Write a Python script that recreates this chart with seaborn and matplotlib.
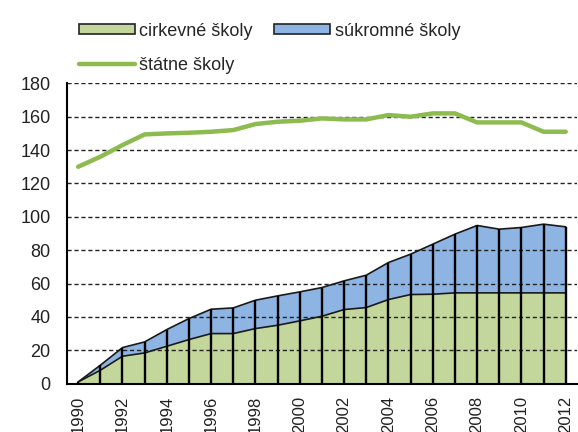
import numpy as np
import pandas as pd
import matplotlib
matplotlib.use("Agg")
import matplotlib.pyplot as plt
import seaborn as sns
from matplotlib.patches import Patch
from matplotlib.lines import Line2D

years = list(range(1990, 2013))
cirkevne = [1, 8, 16.4, 18.4, 22.4, 26.4, 30, 30, 33, 35, 37.6, 40.4, 44.4, 45.6,
            50.4, 53.4, 53.6, 54.4, 54.4, 54.4, 54.4, 54.4, 54.4]
celkom = [1, 11, 21.6, 25, 32.4, 39, 44.6, 45.4, 50, 52.6, 55, 57.6, 61.6, 65,
          72.6, 77.6, 83.6, 89.6, 94.8, 92.6, 93.6, 95.6, 94]
statne = [130, 136, 143, 149.4, 150, 150.4, 151, 152, 155.6, 157, 157.6, 159, 158.4,
          158.4, 161, 160, 162, 162, 156.6, 156.6, 156.6, 151, 151]
sukromne = [t - c for t, c in zip(celkom, cirkevne)]

labels = ["cirkevné školy", "súkromné školy", "štátne školy"]
c_green_fill = "#C3D69B"
c_blue_fill = "#8EB4E3"
c_line = "#8DBB4F"

sns.set_style("white")
plt.rcParams['font.family'] = ['Liberation Sans', 'DejaVu Sans']

df = pd.DataFrame({"rok": years, "cirk": cirkevne, "sukr": sukromne, "stat": statne})

fig = plt.figure(figsize=(5.78, 4.32), dpi=100)
ax = fig.add_axes([0.116, 0.112, 0.882, 0.695])

ax.stackplot(df["rok"], df["cirk"], df["sukr"], colors=[c_green_fill, c_blue_fill],
             edgecolor="none")
ax.plot(df["rok"], df["cirk"], color="#1a1a1a", lw=1.2)
ax.plot(df["rok"], df["cirk"] + df["sukr"], color="#1a1a1a", lw=1.2)
ax.vlines(df["rok"], 0, df["cirk"] + df["sukr"], color="black", lw=1.7, zorder=3)

sns.lineplot(data=df, x="rok", y="stat", ax=ax, color=c_line, lw=3.2, zorder=4)

ax.set_xlim(1989.5, 2012.5)
ax.set_ylim(0, 180)
ax.set_yticks(np.arange(0, 181, 20))
ax.set_xticks(years)
ax.set_xticklabels([str(y) if y % 2 == 0 else "" for y in years], rotation=90,
                   fontsize=12, color="#222222")
ax.set_xticks([y + 0.5 for y in years[:-1]] + [1989.5, 2012.5], minor=True)
ax.tick_params(axis="x", which="major", length=0, pad=9)
ax.tick_params(axis="x", which="minor", length=5, width=1.2, color="black", direction="out")
ax.tick_params(axis="y", length=8, width=1.2, color="black", direction="inout",
               labelsize=13, labelcolor="#222222", pad=8)
ax.set_xlabel("")
ax.set_ylabel("")

for y in range(20, 181, 20):
    ax.axhline(y, color="#222222", lw=1.0, ls=(0, (3, 2)), zorder=1)

for s in ["top", "right"]:
    ax.spines[s].set_visible(False)
for s in ["left", "bottom"]:
    ax.spines[s].set_color("black")
    ax.spines[s].set_linewidth(1.5)

handles = [Patch(facecolor=c_green_fill, edgecolor="#222222", lw=1.2),
           Line2D([0], [0], color=c_line, lw=3.2),
           Patch(facecolor=c_blue_fill, edgecolor="#222222", lw=1.2)]
fig.legend(handles, [labels[0], labels[2], labels[1]], ncol=2, loc="upper left",
           bbox_to_anchor=(0.108, 0.985), frameon=False, fontsize=13,
           handlelength=3.1, handleheight=0.45, handletextpad=0.25, columnspacing=1.2,
           labelspacing=0.95)

fig.savefig("out.png", dpi=100)
